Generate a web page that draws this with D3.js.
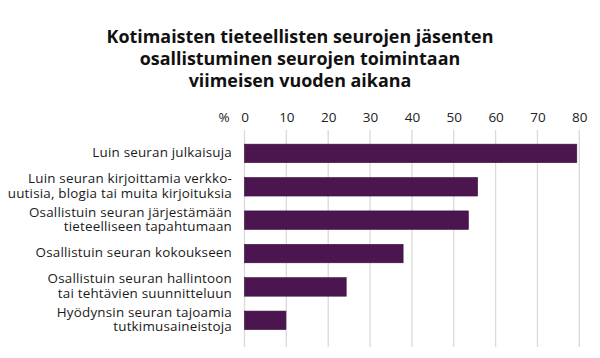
<!DOCTYPE html>
<html><head><meta charset="utf-8">
<script src="https://cdn.jsdelivr.net/npm/d3@7"></script>
<style>
html,body{margin:0;padding:0;background:#fff;}
svg{display:block;font-family:"Open Sans",sans-serif;}
</style></head>
<body><svg id="c" width="600" height="358"></svg>
<script>
const titleLines = ["Kotimaisten tieteellisten seurojen jäsenten","osallistuminen seurojen toimintaan","viimeisen vuoden aikana"];
const categories = [
  ["Luin seuran julkaisuja"],
  ["Luin seuran kirjoittamia verkko-","uutisia, blogia tai muita kirjoituksia"],
  ["Osallistuin seuran järjestämään","tieteelliseen tapahtumaan"],
  ["Osallistuin seuran kokoukseen"],
  ["Osallistuin seuran hallintoon","tai tehtävien suunnitteluun"],
  ["Hyödynsin seuran tajoamia","tutkimusaineistoja"]
];
const values = [79.4, 55.7, 53.5, 37.9, 24.3, 9.9];
const tickValues = [0,10,20,30,40,50,60,70,80];
const unitLabel = "%";

const svg = d3.select("#c");
const x = d3.scaleLinear().domain([0,80]).range([244.5,579.3]);
const y = d3.scaleBand().domain(d3.range(categories.length)).range([131,347]).paddingInner(0.446).paddingOuter(0.458).align(0.43);

// title
svg.append("text").attr("text-anchor","middle").attr("font-weight","bold").attr("font-size",17.9).attr("fill","#111")
  .selectAll("tspan").data(titleLines).join("tspan")
  .attr("x",300).attr("y",(d,i)=>43+i*22).text(d=>d);

// gridlines
svg.append("g").selectAll("line").data(tickValues).join("line")
  .attr("x1",d=>x(d)).attr("x2",d=>x(d)).attr("y1",130).attr("y2",347)
  .attr("stroke","#d9d9d9").attr("stroke-width",1.3);

// top axis labels
const ax = svg.append("g").attr("transform","translate(0,122)")
  .call(d3.axisTop(x).tickValues(tickValues).tickSize(0).tickPadding(0).tickFormat(d3.format("d")));
ax.select(".domain").remove();
ax.selectAll("text").attr("font-size",13.5).attr("fill","#222").attr("font-family","Open Sans, sans-serif");
svg.append("text").attr("x",224).attr("y",122).attr("text-anchor","middle").attr("font-size",13.5).attr("fill","#222").text(unitLabel);

// bars
svg.append("g").selectAll("rect").data(values).join("rect")
  .attr("x",x(0)).attr("y",(d,i)=>y(i)).attr("width",d=>x(d)-x(0)).attr("height",y.bandwidth())
  .attr("fill","#4b1650").attr("stroke","#3a0f3d").attr("stroke-width",0.6);

// labels
const lg = svg.append("g").attr("font-size",13.4).attr("letter-spacing",0.2).attr("fill","#1a1a1a").attr("text-anchor","end");
categories.forEach((lines,i)=>{
  const cy = y(i)+y.bandwidth()/2;
  const t = lg.append("text");
  const n = lines.length;
  lines.forEach((l,j)=>{
    t.append("tspan").attr("x",232).attr("y",cy + 3.6 + (j-(n-1)/2)*14.4).text(l);
  });
});
</script></body></html>
